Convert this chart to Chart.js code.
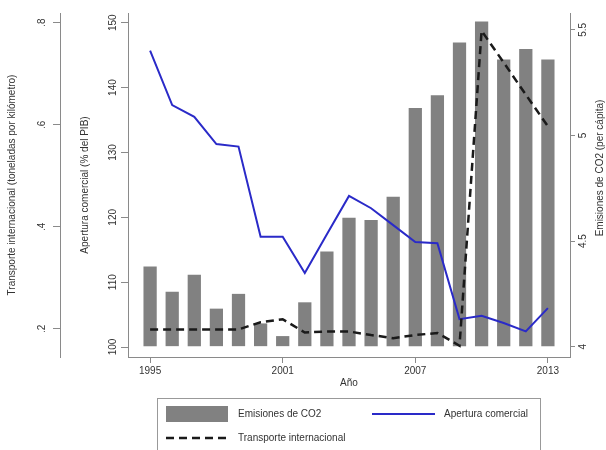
<!DOCTYPE html>
<html>
<head>
<meta charset="utf-8">
<script src="https://cdn.jsdelivr.net/npm/chart.js@4.4.0/dist/chart.umd.min.js"></script>
<style>
  html, body { margin: 0; padding: 0; background: #fff; }
  #chart { display: block; }
</style>
</head>
<body>
<canvas id="chart" width="606" height="450"></canvas>
<script>
// Datos
const years = [1995, 1996, 1997, 1998, 1999, 2000, 2001, 2002, 2003, 2004, 2005, 2006, 2007, 2008, 2009, 2010, 2011, 2012, 2013];
const co2 = [4.38, 4.26, 4.34, 4.18, 4.25, 4.11, 4.05, 4.21, 4.45, 4.61, 4.60, 4.71, 5.13, 5.19, 5.44, 5.54, 5.36, 5.41, 5.36];
const apertura = [145.7, 137.3, 135.5, 131.3, 130.9, 117.0, 117.0, 111.4, 117.4, 123.3, 121.4, 118.8, 116.2, 116.0, 104.3, 104.8, 103.7, 102.4, 106.0];
const transporte = [0.199, 0.199, 0.199, 0.199, 0.199, 0.213, 0.219, 0.193, 0.195, 0.195, 0.188, 0.182, 0.188, 0.192, 0.167, 0.784, 0.722, 0.659, 0.597];

const yearTicks = [1995, 2001, 2007, 2013];
const transporteTicks = [0.2, 0.4, 0.6, 0.8];
const aperturaTicks = [100, 110, 120, 130, 140, 150];
const co2Ticks = [4, 4.5, 5, 5.5];

const axisColor = '#8a8a8a';
const textColor = '#333';

Chart.defaults.font.family = "'Liberation Sans', Arial, sans-serif";
Chart.defaults.font.size = 10;
Chart.defaults.color = textColor;

const toPoints = (vals) => years.map((y, i) => ({x: y, y: vals[i]}));
const setTicks = (list) => (scale) => { scale.ticks = list.map(v => ({value: v})); };
// formato Stata: sin cero inicial ni decimales sobrantes
const stataNum = (v) => String(v).replace(/^0\./, '.');

// leyenda con marco y título del eje derecho (Stata lo escribe de abajo hacia arriba)
const stataExtras = {
  id: 'stataExtras',
  afterDraw(chart) {
    const ctx = chart.ctx;
    const ds = chart.data.datasets;
    ctx.save();
    ctx.font = "10px 'Liberation Sans', Arial, sans-serif";
    ctx.fillStyle = textColor;
    ctx.textBaseline = 'middle';
    ctx.textAlign = 'left';

    ctx.strokeStyle = '#999';
    ctx.lineWidth = 1;
    ctx.strokeRect(157.5, 398.5, 383, 70);

    // CO2
    ctx.fillStyle = ds[0].backgroundColor;
    ctx.fillRect(166, 406, 62, 16);
    ctx.fillStyle = textColor;
    ctx.fillText(ds[0].label, 238, 414);

    // Apertura
    ctx.strokeStyle = ds[1].borderColor;
    ctx.lineWidth = ds[1].borderWidth;
    ctx.beginPath(); ctx.moveTo(372, 414); ctx.lineTo(435, 414); ctx.stroke();
    ctx.fillText(ds[1].label, 444, 414);

    // Transporte
    ctx.strokeStyle = ds[2].borderColor;
    ctx.lineWidth = ds[2].borderWidth;
    ctx.setLineDash(ds[2].borderDash);
    ctx.beginPath(); ctx.moveTo(166, 438); ctx.lineTo(230, 438); ctx.stroke();
    ctx.setLineDash([]);
    ctx.fillText(ds[2].label, 238, 438);

    // título eje derecho
    ctx.translate(600, 168);
    ctx.rotate(-Math.PI / 2);
    ctx.textAlign = 'center';
    ctx.fillText('Emisiones de CO2 (per cápita)', 0, 0);
    ctx.restore();
  }
};

const ctx = document.getElementById('chart');
new Chart(ctx, {
  type: 'bar',
  data: {
    datasets: [
      {
        type: 'bar',
        label: 'Emisiones de CO2',
        data: toPoints(co2),
        yAxisID: 'yC',
        base: 4,
        backgroundColor: '#818181',
        borderWidth: 0,
        barPercentage: 0.75,
        categoryPercentage: 0.8,
        order: 3
      },
      {
        type: 'line',
        label: 'Apertura comercial',
        data: toPoints(apertura),
        yAxisID: 'yA',
        borderColor: 'rgb(42,42,200)',
        borderWidth: 2,
        pointRadius: 0,
        tension: 0,
        order: 2
      },
      {
        type: 'line',
        label: 'Transporte internacional',
        data: toPoints(transporte),
        yAxisID: 'yT',
        borderColor: '#1a1a1a',
        borderWidth: 2.5,
        borderDash: [8, 5],
        pointRadius: 0,
        tension: 0,
        order: 1
      }
    ]
  },
  options: {
    responsive: false,
    devicePixelRatio: 1,
    animation: false,
    layout: {padding: {top: 13, bottom: 58, left: 0, right: 0}},
    plugins: {
      legend: {display: false},
      tooltip: {enabled: false}
    },
    scales: {
      x: {
        type: 'linear',
        position: 'bottom',
        min: 1994,
        max: 2014,
        offset: false,
        afterBuildTicks: setTicks(yearTicks),
        afterFit: (s) => { s.height = 35; },
        ticks: {padding: 2, maxRotation: 0, callback: (v) => String(v)},
        grid: {display: true, offset: false, drawOnChartArea: false, drawTicks: true, tickLength: 6, color: axisColor},
        border: {display: true, color: axisColor},
        title: {display: true, text: 'Año', padding: {top: 0, bottom: 3}}
      },
      yT: {
        type: 'linear',
        position: 'left',
        weight: 1,
        min: 0.145,
        max: 0.819,
        afterBuildTicks: setTicks(transporteTicks),
        afterFit: (s) => { s.width = 60; },
        ticks: {minRotation: 90, maxRotation: 90, crossAlign: 'center', padding: 7, callback: stataNum},
        grid: {display: true, drawOnChartArea: false, drawTicks: true, tickLength: 7, color: axisColor},
        border: {display: true, color: axisColor},
        title: {display: true, text: 'Transporte internacional (toneladas por kilómetro)', padding: {top: 6, bottom: 0}}
      },
      yA: {
        type: 'linear',
        position: 'left',
        weight: 0,
        min: 98.46,
        max: 151.5,
        afterBuildTicks: setTicks(aperturaTicks),
        afterFit: (s) => { s.width = 68; },
        ticks: {minRotation: 90, maxRotation: 90, crossAlign: 'center', padding: -1, callback: stataNum},
        grid: {display: true, drawOnChartArea: false, drawTicks: true, tickLength: 7, color: axisColor},
        border: {display: true, color: axisColor},
        title: {display: true, text: 'Apertura comercial (% del PIB)', padding: {top: 19, bottom: 0}}
      },
      yC: {
        type: 'linear',
        position: 'right',
        min: 3.951,
        max: 5.58,
        afterBuildTicks: setTicks(co2Ticks),
        afterFit: (s) => { s.width = 36; },
        ticks: {minRotation: 90, maxRotation: 90, crossAlign: 'center', padding: 1, callback: stataNum},
        grid: {display: true, drawOnChartArea: false, drawTicks: true, tickLength: 5, color: axisColor},
        border: {display: true, color: axisColor},
        title: {display: false}
      }
    }
  },
  plugins: [stataExtras]
});
</script>
</body>
</html>
